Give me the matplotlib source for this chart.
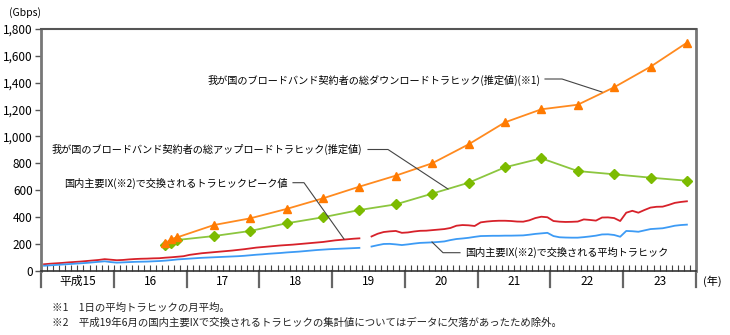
import matplotlib
matplotlib.use("Agg")
import matplotlib.pyplot as plt
import numpy as np
from matplotlib.ticker import FuncFormatter, MultipleLocator

plt.rcParams['font.family'] = ['Noto Sans CJK JP', 'DejaVu Sans']

# semiannual estimates (year, month)
bb_months = ["2004-09", "2004-10", "2004-11", "2005-05", "2005-11", "2006-05", "2006-11",
             "2007-05", "2007-11", "2008-05", "2008-11", "2009-05", "2009-11",
             "2010-05", "2010-11", "2011-05", "2011-11"]
download = [205, 236, 249, 340, 390, 460, 539, 626, 708, 800, 941, 1105, 1202,
            1236, 1366, 1519, 1698]
upload = [191, 209, 229, 258, 296, 353, 398, 452, 494, 574, 655, 770, 837,
          742, 718, 693, 670]

# monthly IX traffic, Jan 2003 .. Nov 2011 (June 2007 missing)
ix_start = "2003-01"
ix_peak = [48, 52, 55, 58, 62, 65, 68, 72, 76, 80, 86, 82,
           78, 80, 84, 87, 89, 90, 92, 93, 97, 100, 104, 108,
           118, 124, 130, 134, 138, 142, 146, 150, 155, 160, 166, 172,
           176, 180, 184, 188, 191, 194, 198, 202, 206, 210, 214, 220,
           226, 230, 234, 238, 241, None, 255, 275, 288, 293, 296, 282,
           285, 292, 297, 298, 302, 306, 310, 318, 335, 340, 338, 333,
           360, 366, 370, 372, 372, 370, 366, 365, 375, 392, 402, 398,
           370, 365, 363, 364, 366, 382, 378, 373, 396, 397, 392, 370,
           432, 446, 432, 452, 470, 476, 477, 490, 505, 512, 517]
ix_avg = [37, 40, 43, 46, 49, 52, 55, 58, 62, 66, 70, 64,
          60, 62, 64, 66, 67, 68, 70, 72, 75, 79, 84, 87,
          90, 93, 96, 98, 100, 102, 104, 106, 108, 111, 115, 119,
          122, 126, 129, 132, 136, 139, 142, 146, 150, 154, 157, 160,
          162, 164, 166, 168, 170, None, 180, 190, 199, 200, 196, 191,
          196, 202, 207, 209, 211, 214, 218, 228, 236, 240, 245, 252,
          258, 259, 260, 260, 261, 261, 262, 263, 268, 274, 278, 282,
          258, 249, 247, 246, 246, 250, 255, 261, 270, 271, 266, 253,
          296, 294, 290, 300, 310, 313, 316, 325, 335, 340, 343]

year_labels = ["平成15", "16", "17", "18", "19", "20", "21", "22", "23"]

labels = {
    "down": "我が国のブロードバンド契約者の総ダウンロードトラヒック(推定値)(※1)",
    "up": "我が国のブロードバンド契約者の総アップロードトラヒック(推定値)",
    "peak": "国内主要IX(※2)で交換されるトラヒックピーク値",
    "avg": "国内主要IX(※2)で交換される平均トラヒック",
}
notes = ["※1　1日の平均トラヒックの月平均。",
         "※2　平成19年6月の国内主要IXで交換されるトラヒックの集計値についてはデータに欠落があったため除外。"]


def month_index(s):
    y, m = s.split("-")
    return (int(y) - 2003) * 12 + int(m) - 1


x_bb = np.array([month_index(s) for s in bb_months]) + 0.5
x0 = month_index(ix_start)
x_ix = np.arange(x0, x0 + len(ix_peak)) + 0.5
peak = np.array([np.nan if v is None else v for v in ix_peak], dtype=float)
avg = np.array([np.nan if v is None else v for v in ix_avg], dtype=float)

W, H = 730, 335
fig = plt.figure(figsize=(W / 100, H / 100), dpi=100)
L, R, T, B = 41, 696, 29, 270.7
ax = fig.add_axes([L / W, 1 - B / H, (R - L) / W, (B - T) / H])

ax.plot(x_ix, peak, color="#d7212a", lw=1.3)
ax.plot(x_ix, avg, color="#3d9bf5", lw=1.3)
ax.plot(x_bb, upload, color="#8cc63f", lw=1.3, marker="D", ms=5,
        mfc="#7cbb00", mec="#7cbb00")
ax.plot(x_bb, download, color="#ff8a1f", lw=1.3, marker="^", ms=5.5,
        mfc="#ff7a00", mec="#ff7a00")

nyears = len(year_labels)
ax.set_xlim(0, nyears * 12)
ax.set_ylim(0, 1800)
ax.yaxis.set_major_locator(MultipleLocator(200))
ax.yaxis.set_major_formatter(FuncFormatter(lambda v, p: f"{int(v):,}"))
ax.tick_params(axis="y", direction="out", length=4, width=1, color="#555",
               labelsize=8.5, pad=2)
ax.xaxis.set_major_locator(MultipleLocator(1))
ax.tick_params(axis="x", direction="in", length=4, width=0.8, color="#444",
               labelbottom=False)

for s in ["left", "right"]:
    ax.spines[s].set_color("#777")
    ax.spines[s].set_linewidth(2)
ax.spines["top"].set_color("#555")
ax.spines["top"].set_linewidth(1.5)
ax.spines["bottom"].set_color("#333")
ax.spines["bottom"].set_linewidth(1.2)

# year separators and labels under the axis
trans = ax.get_xaxis_transform()
drop = 16 / (B - T)
for i in range(nyears + 1):
    ax.plot([i * 12, i * 12], [0, -drop], transform=trans, color="#666",
            lw=1.6, clip_on=False)
for i, lab in enumerate(year_labels):
    ax.text(i * 12 + 6, -drop / 2 - 0.01, lab, transform=trans, ha="center",
            va="center", fontsize=8.5)
fig.text(703 / W, 1 - 281 / H, "(年)", fontsize=8, va="center")
fig.text(9 / W, 1 - 13 / H, "(Gbps)", fontsize=7.5, va="center")


def fx(px):
    return (px - L) / (R - L) * nyears * 12


def fy(py):
    return (B - py) / (B - T) * 1800


def leader(pts):
    ax.plot([fx(p[0]) for p in pts], [fy(p[1]) for p in pts], color="#444",
            lw=0.8, clip_on=False)


fs = 7.3
fig.text(540 / W, 1 - 80 / H, labels["down"], fontsize=fs, ha="right", va="center")
leader([(545, 79), (562, 79), (602, 92)])
fig.text(362 / W, 1 - 149.5 / H, labels["up"], fontsize=fs, ha="right", va="center")
leader([(368, 149.5), (388, 149.5), (448, 189)])
fig.text(288 / W, 1 - 183 / H, labels["peak"], fontsize=fs, ha="right", va="center")
leader([(293, 182.7), (304, 182.7), (344, 239)])
fig.text(465 / W, 1 - 252.7 / H, labels["avg"], fontsize=fs, ha="left", va="center")
leader([(432, 242), (443, 252.7), (460, 252.7)])

fig.text(52 / W, 1 - 308 / H, notes[0], fontsize=7.5, va="center", color="#222")
fig.text(52 / W, 1 - 323 / H, notes[1], fontsize=7.5, va="center", color="#222")

fig.savefig("out.png", dpi=100)
